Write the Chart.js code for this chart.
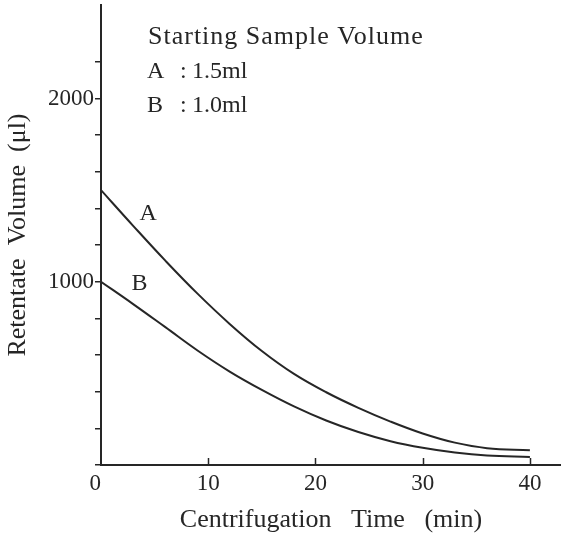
<!DOCTYPE html>
<html>
<head>
<meta charset="utf-8">
<script src="https://cdn.jsdelivr.net/npm/chart.js@4.4.0/dist/chart.umd.min.js"></script>
<style>
  html, body { margin: 0; padding: 0; background: #fff; }
  #wrap { width: 561px; height: 542px; }
</style>
</head>
<body>
<div id="wrap"><canvas id="retentateChart" width="561" height="542"></canvas></div>
<script>
// centrifugation time (min) and retentate volume (µl)
const times = [0, 3, 6, 9, 12, 15, 18, 21, 24, 27, 30, 33, 36, 40];
const volumeA = [1500, 1305, 1115, 935, 770, 622, 497, 397, 312, 237, 172, 122, 92, 80];
const volumeB = [1000, 878, 752, 625, 510, 410, 320, 243, 180, 130, 94, 68, 52, 44];

const xTickValues = [0, 10, 20, 30, 40];
const yTickValues = [0, 200, 400, 600, 800, 1000, 1200, 1400, 1600, 1800, 2000, 2200];
const yLabeled = [1000, 2000];

const noteLines = ['Starting Sample Volume', 'A', '1.5ml', 'B', '1.0ml'];
const curveNames = ['A', 'B'];

const ink = '#262626';
const serif = '"Liberation Serif", "Times New Roman", serif';

const toPoints = (ys) => times.map((t, i) => ({ x: t, y: ys[i] }));

// ticks on the time axis point up into the plot
const extras = {
    id: 'extras',
    afterDraw(chart) {
        const { ctx, scales: { x, y } } = chart;
        ctx.save();
        ctx.strokeStyle = ink;
        ctx.lineWidth = 1.5;
        xTickValues.slice(1).forEach(v => {
            const px = Math.round(x.getPixelForValue(v)) + 0.5;
            ctx.beginPath();
            ctx.moveTo(px, y.bottom);
            ctx.lineTo(px, y.bottom - 7);
            ctx.stroke();
        });

        ctx.fillStyle = ink;
        ctx.textBaseline = 'alphabetic';
        ctx.font = `26px ${serif}`;
        ctx.letterSpacing = '1px';
        ctx.fillText(noteLines[0], 148, 44);
        ctx.letterSpacing = '0px';
        ctx.font = `24px ${serif}`;
        ctx.fillText(noteLines[1], 147, 78);
        ctx.fillText(':', 180, 78);
        ctx.fillText(noteLines[2], 192, 78);
        ctx.fillText(noteLines[3], 147, 112);
        ctx.fillText(':', 180, 112);
        ctx.fillText(noteLines[4], 192, 112);

        // curve names placed in data units
        ctx.textAlign = 'center';
        ctx.textBaseline = 'middle';
        ctx.fillText(curveNames[0], x.getPixelForValue(4.4), y.getPixelForValue(1370));
        ctx.fillText(curveNames[1], x.getPixelForValue(3.6), y.getPixelForValue(990));
        ctx.restore();
    }
};

const curve = (label, ys) => ({
    label,
    data: toPoints(ys),
    borderColor: ink,
    borderWidth: 2,
    pointRadius: 0,
    fill: false,
    tension: 0.4
});

new Chart(document.getElementById('retentateChart'), {
    type: 'line',
    data: {
        datasets: [curve('A', volumeA), curve('B', volumeB)]
    },
    options: {
        responsive: false,
        animation: false,
        layout: { padding: { top: 5, right: 0, bottom: 0, left: 0 } },
        plugins: {
            legend: { display: false },
            tooltip: { enabled: false }
        },
        scales: {
            x: {
                type: 'linear',
                min: 0,
                max: 42.9,
                afterBuildTicks: scale => { scale.ticks = xTickValues.map(v => ({ value: v })); },
                afterFit: scale => {
                    scale.height = 77;
                    scale.paddingLeft = 0;
                    scale.paddingRight = 0;
                },
                grid: { drawOnChartArea: false, drawTicks: false },
                border: { color: ink, width: 2 },
                ticks: {
                    autoSkip: false,
                    maxRotation: 0,
                    padding: 5,
                    color: ink,
                    font: { family: serif, size: 23 },
                    callback: v => v === 0 ? '0  ' : String(v)
                },
                title: {
                    display: true,
                    text: 'Centrifugation   Time   (min)',
                    color: ink,
                    font: { family: serif, size: 26 },
                    padding: { top: 0, bottom: 6 }
                }
            },
            y: {
                min: 0,
                max: 2510,
                afterBuildTicks: scale => { scale.ticks = yTickValues.map(v => ({ value: v })); },
                afterFit: scale => {
                    scale.width = 101;
                    scale.paddingTop = 0;
                    scale.paddingBottom = 0;
                },
                grid: { drawOnChartArea: false, tickLength: 6, color: ink, lineWidth: 1.5 },
                border: { color: ink, width: 2 },
                ticks: {
                    autoSkip: false,
                    padding: 1,
                    color: ink,
                    font: { family: serif, size: 23 },
                    callback: v => yLabeled.includes(v) ? String(v) : ''
                },
                title: {
                    display: true,
                    text: 'Retentate  Volume  (\u03bcl)',
                    color: ink,
                    font: { family: serif, size: 26 },
                    padding: { top: 3, bottom: 0 }
                }
            }
        }
    },
    plugins: [extras]
});
</script>
</body>
</html>
